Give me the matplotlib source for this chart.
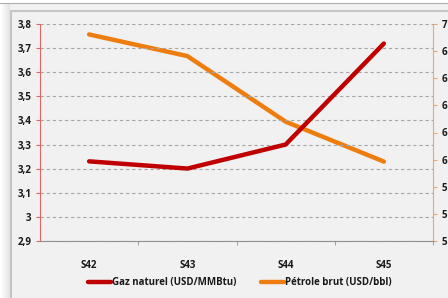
import matplotlib
matplotlib.use("Agg")
import matplotlib.pyplot as plt
from matplotlib.patches import Rectangle
from matplotlib.lines import Line2D

semaines = ["S42", "S43", "S44", "S45"]
gaz = [3.23, 3.20, 3.30, 3.72]
petrole = [69.25, 67.65, 62.8, 59.85]
gauche_ticks = [2.9, 3.0, 3.1, 3.2, 3.3, 3.4, 3.5, 3.6, 3.7, 3.8]
gauche_labels = ["2,9", "3", "3,1", "3,2", "3,3", "3,4", "3,5", "3,6", "3,7", "3,8"]
droite_ticks = [54, 56, 58, 60, 62, 64, 66, 68, 70]
droite_labels = ["5", "5", "5", "6", "6", "6", "6", "6", "7"]

plt.rcParams['font.family'] = ['Open Sans', 'DejaVu Sans']
W, H = 448, 298
fig = plt.figure(figsize=(W / 100, H / 100), dpi=100)
fig.patch.set_facecolor("#f1f1f1")

# window-ish frame
fig.patches.append(Rectangle((0, 1 - 3 / H), 1, 3 / H, transform=fig.transFigure,
                             facecolor="white", edgecolor="none"))
for i in range(10):
    g = 1.0 - i * 0.012
    fig.patches.append(Rectangle((i / W, 0), 1 / W, 1 - 3 / H, transform=fig.transFigure,
                                 facecolor=(g, g, g), edgecolor="none"))
fig.patches.append(Rectangle((10 / W, 0), 1.5 / W, 1 - 10 / H, transform=fig.transFigure,
                             facecolor="#c4c4c4", edgecolor="none"))
fig.patches.append(Rectangle((10 / W, 1 - 11.5 / H), 1 - 10 / W, 1.5 / H, transform=fig.transFigure,
                             facecolor="#c4c4c4", edgecolor="none"))
fig.lines.append(Line2D([0, 1], [1 - 3 / H, 1 - 3 / H], transform=fig.transFigure,
                        color="#b0b0b0", lw=0.8))

ax = fig.add_axes([40 / W, 1 - 240.7 / H, 393 / W, 216.4 / H])
ax.set_facecolor("none")
x = list(range(len(semaines)))

ax.set_ylim(2.9, 3.8)
ax.set_xlim(-0.5, 3.5)
ax.set_yticks(gauche_ticks)
ax.set_yticklabels(gauche_labels)
ax.yaxis.grid(True, color="#a6a6a6", linestyle=(0, (3, 2.5)), lw=0.8)
ax.set_axisbelow(True)
ax.set_xticks(x)
ax.set_xticklabels(semaines)
ax.set_xticks([0.5, 1.5, 2.5, 3.5], minor=True)
ax.tick_params(axis="x", which="major", length=0, pad=14)
ax.tick_params(axis="x", which="minor", length=3, color="#909090")
ax.tick_params(axis="y", length=3, color="#e06666", pad=3)
for lab in ax.get_xticklabels() + ax.get_yticklabels():
    lab.set_fontsize(7)
    lab.set_fontweight("bold")
    lab.set_color("#1a1a1a")
ax.spines["top"].set_visible(False)
ax.spines["right"].set_visible(False)
ax.spines["left"].set_color("#e06666")
ax.spines["bottom"].set_color("#909090")

ax2 = ax.twinx()
ax2.set_ylim(54, 70)
ax2.set_yticks(droite_ticks)
ax2.set_yticklabels(droite_labels)
ax2.tick_params(axis="y", length=3, color="#f4a460", pad=3)
for lab in ax2.get_yticklabels():
    lab.set_fontsize(7)
    lab.set_fontweight("bold")
    lab.set_color("#1a1a1a")
for s in ["top", "left", "bottom"]:
    ax2.spines[s].set_visible(False)
ax2.spines["right"].set_color("#f4a460")

l2, = ax2.plot(x, petrole, color="#ed7d0f", lw=3.2, solid_capstyle="round",
               solid_joinstyle="round", label="Pétrole brut (USD/bbl)")
l1, = ax.plot(x, gaz, color="#c00000", lw=3.2,
              solid_capstyle="round", solid_joinstyle="round", label="Gaz naturel (USD/MMBtu)")
ax.set_zorder(ax2.get_zorder() + 1)
ax.patch.set_visible(False)

leg = fig.legend([l1, l2], [l1.get_label(), l2.get_label()], loc="center",
                 bbox_to_anchor=(240 / W, 1 - 283 / H), ncol=2, frameon=False,
                 handlelength=2.4, handletextpad=0.1, columnspacing=2.5,
                 prop={"weight": "bold", "size": 7})
for t in leg.get_texts():
    t.set_color("#1a1a1a")

fig.savefig("out.png", dpi=100, facecolor=fig.get_facecolor())
